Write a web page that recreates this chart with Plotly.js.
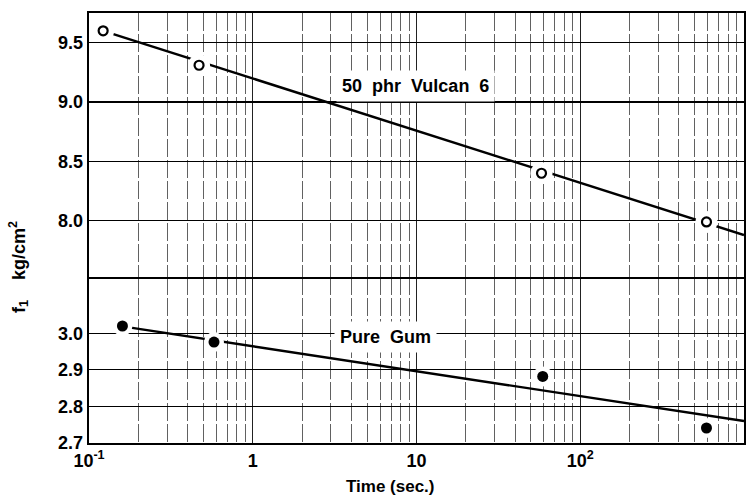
<!DOCTYPE html>
<html>
<head>
<meta charset="utf-8">
<script src="https://cdn.plot.ly/plotly-3.0.1.min.js"></script>
<style>html,body{margin:0;padding:0;background:#fff;}#chart{width:756px;height:495px;}</style>
</head>
<body>
<div id="chart"></div>
<script>
// ---- data ----
const xTickVals = [0.1, 1, 10, 100, 1000];
const xTickText = ['10<sup>-1</sup>', '1', '10', '10<sup>2</sup>', '10<sup>3</sup>'];
const topTickVals = [8.0, 8.5, 9.0, 9.5];
const topTickText = ['8.0', '8.5', '9.0', '9.5'];
const botTickVals = [2.7, 2.8, 2.9, 3.0];
const botTickText = ['2.7', '2.8', '2.9', '3.0'];

const vulcanTime = [0.122, 0.47, 58, 590];
const vulcanF = [9.6, 9.31, 8.4, 7.99];
const vulcanFitTime = [0.122, 1000];
const vulcanFitF = [9.6, 7.88];

const gumTime = [0.16, 0.58, 59, 590];
const gumF = [3.02, 2.976, 2.882, 2.741];
const gumFitTime = [0.16, 1000];
const gumFitF = [3.019, 2.76];

const vulcanLabel = '50\u00a0\u00a0phr\u00a0\u00a0Vulcan\u00a0\u00a06';
const gumLabel = 'Pure\u00a0\u00a0Gum';
const xTitle = 'Time (sec.)';
const yTitle = 'f<sub>1</sub>\u00a0\u00a0\u00a0\u00a0kg/cm<sup>2</sup>';

// ---- styling ----
const FONT = 'Liberation Sans, Arial, sans-serif';
const tickFont = {family: FONT, size: 18, color: '#000', weight: 'bold'};
const LW = 2.4;

const traces = [
  {x: vulcanFitTime, y: vulcanFitF, xaxis: 'x2', yaxis: 'y2', mode: 'lines',
   line: {color: '#000', width: 2.4}, hoverinfo: 'skip', showlegend: false},
  {x: gumFitTime, y: gumFitF, xaxis: 'x', yaxis: 'y', mode: 'lines',
   line: {color: '#000', width: 2.4}, hoverinfo: 'skip', showlegend: false},
  // white halos that break the line around each point
  {x: vulcanTime, y: vulcanF, xaxis: 'x2', yaxis: 'y2', mode: 'markers',
   marker: {color: '#fff', size: 22, line: {width: 0}}, hoverinfo: 'skip', showlegend: false},
  {x: gumTime, y: gumF, xaxis: 'x', yaxis: 'y', mode: 'markers',
   marker: {color: '#fff', size: 20, line: {width: 0}}, hoverinfo: 'skip', showlegend: false},
  // data points
  {x: vulcanTime, y: vulcanF, xaxis: 'x2', yaxis: 'y2', mode: 'markers', name: '50 phr Vulcan 6',
   marker: {symbol: 'circle', color: '#fff', size: 9, line: {color: '#000', width: 2.2}}, showlegend: false},
  {x: gumTime, y: gumF, xaxis: 'x', yaxis: 'y', mode: 'markers', name: 'Pure Gum',
   marker: {symbol: 'circle', color: '#000', size: 11, line: {width: 0}}, showlegend: false}
];

const gridY = {showgrid: true, gridcolor: '#000', gridwidth: 1.2};
const xCommon = {
  type: 'log', range: [-1, 3],
  tickmode: 'array', tickvals: xTickVals, ticktext: xTickText,
  tickfont: tickFont, ticks: '', ticklen: 0,
  showgrid: true, gridcolor: '#222', gridwidth: 1,
  minor: {dtick: 'D1', showgrid: true, gridcolor: '#3a3a3a', gridwidth: 0.8, griddash: '18px,3px', ticks: ''},
  showline: true, linecolor: '#000', linewidth: LW,
  zeroline: false
};

const layout = {
  width: 756, height: 495,
  margin: {l: 89, r: 12, t: 13, b: 52},
  paper_bgcolor: '#fff', plot_bgcolor: '#fff',
  showlegend: false,
  xaxis: Object.assign({}, xCommon, {anchor: 'y', mirror: false}),
  xaxis2: Object.assign({}, xCommon, {anchor: 'y2', matches: 'x', mirror: true, showticklabels: false}),
  yaxis: Object.assign({
    domain: [0, 0.386], range: [2.7, 3.154],
    tickmode: 'array', tickvals: botTickVals, ticktext: botTickText,
    tickfont: tickFont, ticks: '', ticklen: 0,
    showline: true, linecolor: '#000', linewidth: LW, mirror: true,
    zeroline: false, anchor: 'x'
  }, gridY),
  yaxis2: Object.assign({
    domain: [0.386, 1], range: [7.526, 9.75],
    tickmode: 'array', tickvals: topTickVals, ticktext: topTickText,
    tickfont: tickFont, ticks: '', ticklen: 0,
    showline: true, linecolor: '#000', linewidth: LW, mirror: true,
    zeroline: false, anchor: 'x2'
  }, gridY),
  annotations: [
    {text: vulcanLabel, xref: 'paper', yref: 'paper', x: (415 - 89) / 655, y: (443 - 86) / 430,
     xanchor: 'center', yanchor: 'middle', showarrow: false, bgcolor: '#fff', borderpad: 5,
     font: {family: FONT, size: 18, color: '#000', weight: 'bold'}},
    {text: gumLabel, xref: 'paper', yref: 'paper', x: (385 - 89) / 655, y: (443 - 337) / 430,
     xanchor: 'center', yanchor: 'middle', showarrow: false, bgcolor: '#fff', borderpad: 5,
     font: {family: FONT, size: 18, color: '#000', weight: 'bold'}},
    {text: xTitle, xref: 'paper', yref: 'paper', x: (390 - 89) / 655, y: (443 - 486) / 430,
     xanchor: 'center', yanchor: 'middle', showarrow: false,
     font: {family: FONT, size: 17, color: '#000', weight: 'bold'}},
    {text: yTitle, xref: 'paper', yref: 'paper', x: (18 - 89) / 655, y: (443 - 267) / 430,
     xanchor: 'center', yanchor: 'middle', showarrow: false, textangle: -90,
     font: {family: FONT, size: 18, color: '#000', weight: 'bold'}}
  ]
};

Plotly.newPlot('chart', traces, layout, {staticPlot: true, displayModeBar: false});
</script>
</body>
</html>
